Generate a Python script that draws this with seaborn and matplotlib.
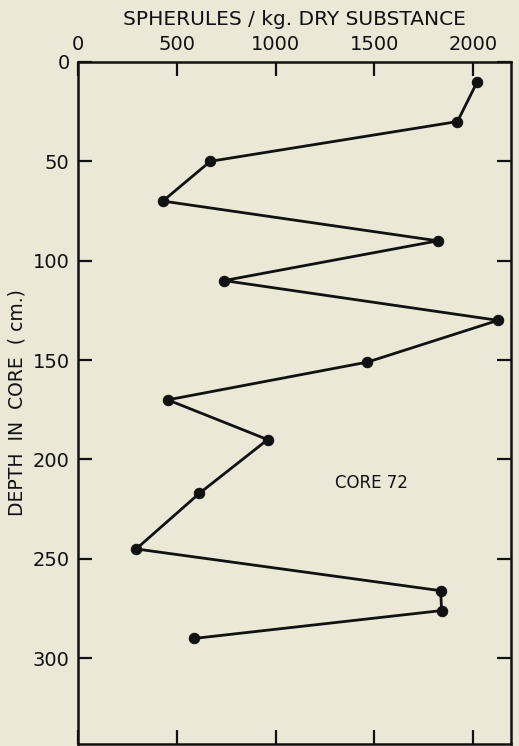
import matplotlib
matplotlib.use("Agg")
import matplotlib.pyplot as plt
import seaborn as sns
import pandas as pd

depth = [10, 30, 50, 70, 90, 110, 130, 151, 170, 190, 217, 245, 266, 276, 290]
spherules = [2020, 1920, 670, 430, 1820, 740, 2125, 1465, 455, 960, 615, 295, 1835, 1840, 590]
x_ticks = [0, 500, 1000, 1500, 2000]
y_ticks = [0, 50, 100, 150, 200, 250, 300]

df = pd.DataFrame({"depth": depth, "spherules": spherules})

sns.set_style("ticks")
plt.rcParams['font.family'] = ['DejaVu Sans']
plt.rcParams['text.color'] = "#111111"
plt.rcParams['axes.labelcolor'] = "#111111"
plt.rcParams['xtick.color'] = "#111111"
plt.rcParams['ytick.color'] = "#111111"
bg = "#ebe8d8"

fig = plt.figure(figsize=(5.19, 7.46), dpi=100, facecolor=bg)
ax = fig.add_axes([0.150, 0.003, 0.835, 0.914])
ax.set_facecolor(bg)

sns.lineplot(data=df, x="spherules", y="depth", sort=False, estimator=None,
             color="#111111", linewidth=2.0, marker="o", markersize=7.5,
             markeredgecolor="#111111", ax=ax)

ax.set_xlim(0, 2192)
ax.set_ylim(343, 0)
ax.set_xticks(x_ticks)
ax.set_yticks(y_ticks)
ax.xaxis.tick_top()
ax.xaxis.set_label_position("top")
ax.tick_params(axis="both", direction="in", length=10, width=1.6, labelsize=14,
               top=True, bottom=True, left=True, right=True,
               labeltop=True, labelbottom=False, pad=6)
for s in ax.spines.values():
    s.set_linewidth(1.8)
    s.set_color("#111111")

ax.set_xlabel("SPHERULES / kg. DRY SUBSTANCE", fontsize=14.5, labelpad=7, fontweight="medium")
ax.set_ylabel("DEPTH  IN  CORE  ( cm.)", fontsize=13.5, labelpad=4)
ax.text(1484, 212, "CORE 72", fontsize=12, ha="center", va="center")

fig.savefig("out.png", dpi=100, facecolor=bg)
